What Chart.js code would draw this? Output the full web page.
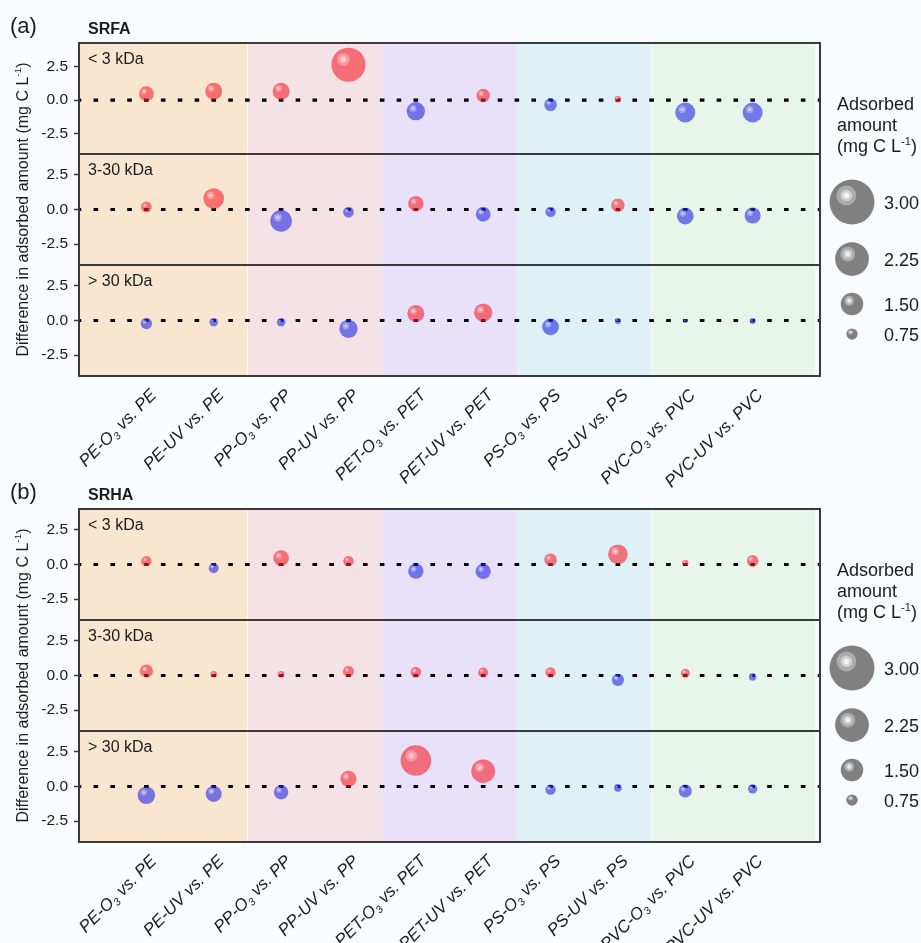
<!DOCTYPE html>
<html>
<head>
<meta charset="utf-8">
<script src="https://cdn.jsdelivr.net/npm/chart.js@4.4.1/dist/chart.umd.min.js"></script>
<style>
  html, body { margin: 0; padding: 0; background: #f8fcfe; }
  body { width: 921px; height: 943px; position: relative; overflow: hidden; }
  canvas { position: absolute; left: 0; }
  #chartA { top: 0; }
  #chartB { top: 466px; }
</style>
</head>
<body>
<canvas id="chartA" width="921" height="500"></canvas>
<canvas id="chartB" width="921" height="477"></canvas>
<script>
// Pairwise comparisons (aged vs. pristine microplastic); "_{3}" marks a subscript
const categories = [
  'PE-O_{3} vs. PE', 'PE-UV vs. PE',
  'PP-O_{3} vs. PP', 'PP-UV vs. PP',
  'PET-O_{3} vs. PET', 'PET-UV vs. PET',
  'PS-O_{3} vs. PS', 'PS-UV vs. PS',
  'PVC-O_{3} vs. PVC', 'PVC-UV vs. PVC'
];
// polymer groups shaded behind the points (edges in category units)
const groupEdges = [-1, 1.5, 3.5, 5.5, 7.5, 9.93];
const groupColors = ['#f9e6d0', '#f5e2e6', '#e9e1fa', '#dff0f7', '#e8f5ea'];

const sizeClasses = ['< 3 kDa', '3-30 kDa', '> 30 kDa'];
const yTicks = [-2.5, 0, 2.5];
const legendAmounts = [3.00, 2.25, 1.50, 0.75];

// SRFA: difference in adsorbed amount (mg C/L)
const srfaDiffLow  = [0.48, 0.67, 0.67, 2.64, -0.82, 0.35, -0.34, 0.07, -0.92, -0.92];
const srfaDiffMid  = [0.19, 0.79, -0.82, -0.19, 0.42, -0.34, -0.17, 0.31, -0.48, -0.43];
const srfaDiffHigh = [-0.22, -0.12, -0.12, -0.60, 0.50, 0.57, -0.46, -0.03, -0.03, -0.03];
// SRFA: adsorbed amount (mg C/L), shown as bubble size
const srfaAmtLow  = [0.98, 1.13, 1.13, 2.27, 1.22, 0.89, 0.84, 0.44, 1.33, 1.33];
const srfaAmtMid  = [0.71, 1.38, 1.44, 0.71, 1.02, 0.98, 0.69, 0.89, 1.11, 1.07];
const srfaAmtHigh = [0.76, 0.56, 0.56, 1.22, 1.13, 1.22, 1.11, 0.40, 0.27, 0.40];

// SRHA: difference in adsorbed amount (mg C/L)
const srhaDiffLow  = [0.24, -0.26, 0.46, 0.24, -0.48, -0.50, 0.34, 0.74, 0.12, 0.26];
const srhaDiffMid  = [0.33, 0.09, 0.09, 0.29, 0.24, 0.22, 0.22, -0.31, 0.17, -0.10];
const srhaDiffHigh = [-0.63, -0.53, -0.41, 0.55, 1.87, 1.10, -0.22, -0.10, -0.32, -0.17];
// SRHA: adsorbed amount (mg C/L), shown as bubble size
const srhaAmtLow  = [0.69, 0.67, 1.04, 0.69, 1.02, 1.02, 0.84, 1.31, 0.42, 0.78];
const srhaAmtMid  = [0.87, 0.44, 0.44, 0.73, 0.71, 0.67, 0.69, 0.82, 0.60, 0.49];
const srhaAmtHigh = [1.16, 1.07, 0.96, 1.07, 2.04, 1.58, 0.69, 0.51, 0.87, 0.62];

const FONT = "'Liberation Sans', Arial, Helvetica, sans-serif";
const INK = '#1b1b1b';
const FRAME = '#3a3a3a';
const RED = 'rgba(246, 32, 44, 0.6)';
const BLUE = 'rgba(34, 38, 232, 0.6)';
const PX_PER_AMOUNT = 7.5;           // bubble radius (px) per mg C/L
const ROW_KEYS = ['yLow', 'yMid', 'yHigh'];

function parseRich(str) {
  const segs = [];
  const re = /([_^])\{([^}]*)\}/g;
  let last = 0, m;
  while ((m = re.exec(str))) {
    if (m.index > last) segs.push({ t: str.slice(last, m.index), k: '' });
    segs.push({ t: m[2], k: m[1] });
    last = re.lastIndex;
  }
  if (last < str.length) segs.push({ t: str.slice(last), k: '' });
  return segs;
}

// text with sub/superscripts, drawn segment by segment
function drawRich(ctx, str, x, y, size, opt = {}) {
  const align = opt.align || 'left', style = opt.style || 'normal', weight = opt.weight || 'normal';
  const segs = parseRich(str);
  const fonts = segs.map(s => `${style} ${weight} ${s.k ? size * 0.62 : size}px ${FONT}`);
  const widths = segs.map((s, i) => { ctx.font = fonts[i]; return ctx.measureText(s.t).width; });
  const total = widths.reduce((a, b) => a + b, 0);
  let cx = align === 'right' ? x - total : align === 'center' ? x - total / 2 : x;
  ctx.textAlign = 'left';
  segs.forEach((s, i) => {
    ctx.font = fonts[i];
    const dy = s.k === '_' ? size * 0.2 : s.k === '^' ? -size * 0.38 : 0;
    ctx.fillText(s.t, cx, y + dy);
    cx += widths[i];
  });
}

function disc(ctx, x, y, r) {
  ctx.beginPath(); ctx.arc(x, y, r, 0, Math.PI * 2); ctx.fill();
}

function rowAxis(min, max) {
  return {
    type: 'linear', position: 'left', stack: 'rows', stackWeight: 1,
    min, max,
    afterBuildTicks: s => { s.ticks = yTicks.map(v => ({ value: v })); },
    afterFit: s => { s.width = 60; },
    ticks: {
      callback: v => Number(v).toFixed(1),
      font: { family: FONT, size: 15.5 }, color: INK, padding: 6
    },
    grid: { drawOnChartArea: false, drawTicks: true, tickLength: 5, tickColor: FRAME, tickWidth: 1.5 },
    border: { display: false }
  };
}

function panelDecor(letter, title) {
  return {
    id: 'panelDecor',
    beforeDatasetsDraw(chart) {
      const { ctx, chartArea: a, scales } = chart;
      const xs = scales.x;
      ctx.save();
      groupColors.forEach((c, i) => {
        const x0 = xs.getPixelForValue(groupEdges[i]);
        const x1 = xs.getPixelForValue(groupEdges[i + 1]);
        ctx.fillStyle = c;
        ctx.fillRect(x0, a.top, x1 - x0, a.bottom - a.top);
      });
      // light seams between some of the groups
      ctx.fillStyle = 'rgba(255,255,255,0.75)';
      ctx.fillRect(xs.getPixelForValue(groupEdges[1]) - 0.5, a.top, 1, a.bottom - a.top);
      ctx.fillStyle = 'rgba(255,255,255,0.45)';
      ctx.fillRect(xs.getPixelForValue(groupEdges[4]) - 0.5, a.top, 1, a.bottom - a.top);
      // dotted zero line in every row, dashes centred on the categories
      const period = (xs.getPixelForValue(1) - xs.getPixelForValue(0)) / 4;
      const dash = 4.6;
      ctx.strokeStyle = '#000';
      ctx.lineWidth = 3.2;
      ctx.setLineDash([dash, period - dash]);
      ctx.lineDashOffset = dash / 2;
      ROW_KEYS.forEach(k => {
        const y = scales[k].getPixelForValue(0);
        ctx.beginPath(); ctx.moveTo(a.left, y); ctx.lineTo(a.right, y); ctx.stroke();
      });
      ctx.restore();
    },
    afterDatasetsDraw(chart) {
      const { ctx, chartArea: a, scales } = chart;
      ctx.save();
      // glossy highlight on each bubble
      chart.data.datasets.forEach((ds, di) => {
        chart.getDatasetMeta(di).data.forEach(el => {
          const r = el.options.radius;
          const hx = el.x - 0.3 * r, hy = el.y - 0.31 * r;
          ctx.fillStyle = 'rgba(255,255,255,0.3)'; disc(ctx, hx, hy, 0.38 * r);
          ctx.fillStyle = 'rgba(255,255,255,0.45)'; disc(ctx, hx, hy, 0.18 * r);
        });
      });
      // frame around each row
      ctx.strokeStyle = FRAME;
      ctx.lineWidth = 2;
      ROW_KEYS.forEach(k => {
        const s = scales[k];
        ctx.strokeRect(a.left, s.top, a.right - a.left, s.bottom - s.top);
      });
      // row captions
      ctx.fillStyle = INK;
      ctx.textBaseline = 'alphabetic';
      ROW_KEYS.forEach((k, i) => {
        drawRich(ctx, sizeClasses[i], a.left + 9, scales[k].top + 21, 16);
      });
      ctx.restore();
    },
    afterDraw(chart) {
      const { ctx, chartArea: a, scales } = chart;
      const xs = scales.x;
      ctx.save();
      ctx.fillStyle = INK;
      ctx.textBaseline = 'alphabetic';
      drawRich(ctx, letter, 10, 33, 22);
      drawRich(ctx, title, a.left + 9, 34, 16, { weight: 'bold' });

      // y-axis title
      ctx.save();
      ctx.translate(24, (a.top + a.bottom) / 2);
      ctx.rotate(-Math.PI / 2);
      ctx.textBaseline = 'middle';
      drawRich(ctx, 'Difference in adsorbed amount (mg C L^{-1})', 0, 0, 16, { align: 'center' });
      ctx.restore();

      // category labels, rotated
      categories.forEach((lab, i) => {
        ctx.save();
        ctx.translate(xs.getPixelForValue(i) + 11, a.bottom + 20);
        ctx.rotate(-Math.PI / 4);
        drawRich(ctx, lab, 0, 0, 17, { align: 'right', style: 'italic' });
        ctx.restore();
      });

      // bubble-size legend
      const lx = a.right + 17;
      drawRich(ctx, 'Adsorbed', lx, a.top + 67, 18);
      drawRich(ctx, 'amount', lx, a.top + 88, 18);
      drawRich(ctx, '(mg C L^{-1})', lx, a.top + 109, 18);
      const centres = [159, 216, 261, 291];
      legendAmounts.forEach((v, i) => {
        const r = v * PX_PER_AMOUNT;
        const cx = a.right + 32, cy = a.top + centres[i];
        ctx.fillStyle = '#808080'; disc(ctx, cx, cy, r);
        const hx = cx - 0.25 * r, hy = cy - 0.29 * r;
        ctx.fillStyle = '#ababab'; disc(ctx, hx, hy, 0.44 * r);
        ctx.fillStyle = '#d0d0d0'; disc(ctx, hx, hy, 0.26 * r);
        ctx.fillStyle = '#f2f2f2'; disc(ctx, hx, hy, 0.13 * r);
        ctx.fillStyle = INK;
        drawRich(ctx, v.toFixed(2), a.right + 64, cy + 6.5, 18);
      });
      ctx.restore();
    }
  };
}

function buildPanel(canvasId, letter, title, diffs, amts, lowMax, padBottom) {
  const datasets = diffs.map((d, row) => ({
    label: sizeClasses[row],
    yAxisID: ROW_KEYS[row],
    data: categories.map((_, i) => ({ x: i, y: d[i], r: amts[row][i] * PX_PER_AMOUNT })),
    backgroundColor: c => (c.raw && c.raw.y < 0) ? BLUE : RED,
    borderWidth: 0
  }));
  return new Chart(document.getElementById(canvasId), {
    type: 'bubble',
    data: { datasets },
    options: {
      responsive: false,
      animation: false,
      events: [],
      layout: { padding: { left: 19, right: 101, top: 43, bottom: padBottom } },
      plugins: { legend: { display: false }, tooltip: { enabled: false } },
      scales: {
        x: { type: 'linear', min: -1, max: 10, display: false },
        yHigh: rowAxis(-4, 4),
        yMid: rowAxis(-4, 4),
        yLow: rowAxis(-4, lowMax)
      }
    },
    plugins: [panelDecor(letter, title)]
  });
}

buildPanel('chartA', '(a)', 'SRFA',
  [srfaDiffLow, srfaDiffMid, srfaDiffHigh],
  [srfaAmtLow, srfaAmtMid, srfaAmtHigh], 4.25, 124);
buildPanel('chartB', '(b)', 'SRHA',
  [srhaDiffLow, srhaDiffMid, srhaDiffHigh],
  [srhaAmtLow, srhaAmtMid, srhaAmtHigh], 4, 101);
</script>
</body>
</html>
